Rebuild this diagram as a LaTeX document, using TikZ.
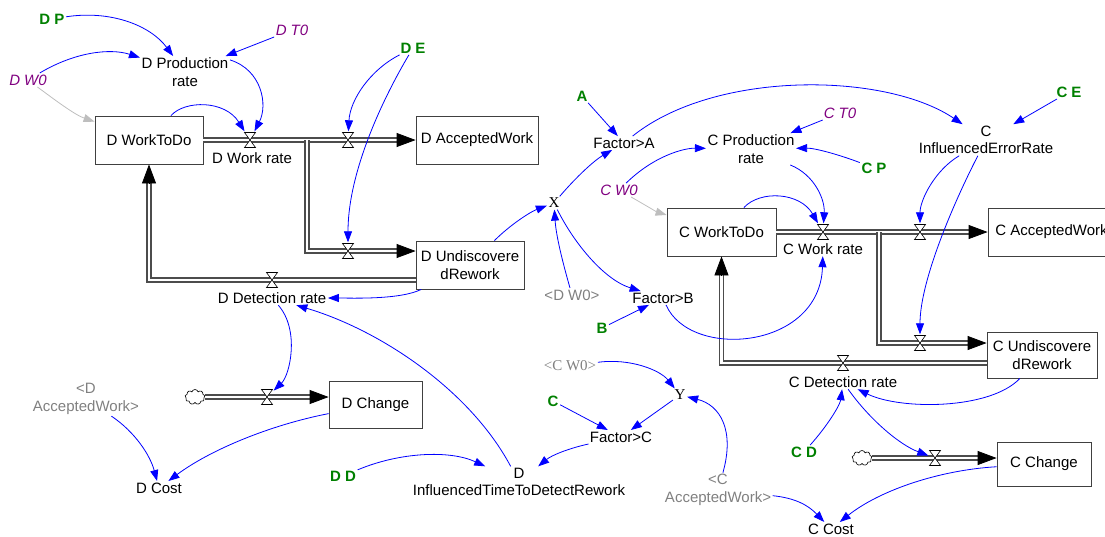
\documentclass[tikz,border=0pt]{standalone}
\usepackage{fontspec}
\setmainfont{Liberation Sans}
\newfontfamily\seriffont{Liberation Serif}
\usetikzlibrary{arrows.meta,shapes.symbols,calc}
\definecolor{cgreen}{RGB}{0,128,0}
\definecolor{cpurple}{RGB}{128,0,128}
\definecolor{cshadow}{RGB}{128,128,128}
\definecolor{cghost}{RGB}{190,190,190}
\definecolor{clink}{RGB}{0,0,255}
\tikzset{
  base/.style={font=\fontsize{15}{17.5}\selectfont, inner sep=1.5pt, align=center},
  var/.style={base},
  const/.style={base, text=cgreen, font=\fontsize{15}{17.5}\selectfont\bfseries},
  init/.style={base, text=cpurple, font=\fontsize{15}{17.5}\selectfont\itshape},
  ghost/.style={base, text=cshadow},
  ghostserif/.style={base, text=cshadow, font=\fontsize{15}{17.5}\selectfont\seriffont},
  serifvar/.style={base, font=\fontsize{15}{17.5}\selectfont\seriffont},
  stock/.style={base, draw=black!75, line width=0.8pt, fill=white, inner sep=0pt},
  valve/.style={minimum width=13pt, minimum height=17pt, inner sep=0pt,
    path picture={\filldraw[fill=white, draw=black, line width=0.6pt]
      ($(path picture bounding box.center)+(-5.5,-7.5)$) -- ($(path picture bounding box.center)+(5.5,-7.5)$) -- (path picture bounding box.center) -- cycle
      ($(path picture bounding box.center)+(-5.5,7.5)$) -- ($(path picture bounding box.center)+(5.5,7.5)$) -- (path picture bounding box.center) -- cycle;}},
  cloudy/.style={cloud, cloud puffs=9, draw, fill=white, line width=0.6pt, minimum width=20pt, minimum height=15pt, inner sep=0pt, aspect=1.3},
  pipe/.style={preaction={draw=black!70, line width=5.2pt}, draw=white, line width=2.8pt},
  flowhead/.style={black, line width=0.8pt, -{Triangle[length=19pt,width=14pt]}},
  link/.style={clink, line width=0.8pt, -{Triangle[length=11pt,width=8pt]}},
  glink/.style={cghost, line width=0.8pt, -{Triangle[length=11pt,width=8pt]}},
}
\begin{document}
\begin{tikzpicture}[x=1pt, y=-1pt]
\useasboundingbox (0,0) rectangle (1105,536);
% stocks
\node[stock, minimum width=108pt, minimum height=48pt] (dwtd) at (149,140) {D WorkToDo};
\node[stock, minimum width=122pt, minimum height=48pt] (dacc) at (477,140) {D AcceptedWork};
\node[stock, minimum width=108pt, minimum height=48pt] (dund) at (470,265) {D Undiscovere\\dRework};
\node[stock, minimum width=93pt, minimum height=47pt] (dchg) at (375.5,404.5) {D Change};
\node[stock, minimum width=109pt, minimum height=48pt] (cwtd) at (721.5,232) {C WorkToDo};
\node[stock, minimum width=127pt, minimum height=48pt] (cacc) at (1051.5,232) {C AcceptedWork};
\node[stock, minimum width=110pt, minimum height=46pt] (cund) at (1042,355) {C Undiscovere\\dRework};
\node[stock, minimum width=94pt, minimum height=44pt] (cchg) at (1044,464) {C Change};
% variables
\node[const] (dp) at (52,19) {D P};
\node[init] (dt0) at (292,30) {D T0};
\node[var] (dprod) at (185,72) {D Production\\rate};
\node[init] (dw0) at (28,80) {D W0};
\node[const] (de) at (413,48) {D E};
\node[var] (dwrl) at (252,158) {D Work rate};
\node[var] (ddet) at (272,298) {D Detection rate};
\node[ghost] (daccsh) at (86,399) {<D\\AcceptedWork>};
\node[var] (dcost) at (159,488) {D Cost};
\node[const] (dd) at (343,476) {D D};
\node[var] (dinf) at (519,482) {D\\InfluencedTimeToDetectRework};
\node[serifvar] (xx) at (554,203) {X};
\node[ghost] (dw0sh) at (572,295) {<D W0>};
\node[const] (ca) at (582,96) {A};
\node[var] (fa) at (624,143) {Factor>A};
\node[var] (fb) at (663,298) {Factor>B};
\node[const] (cb) at (602,328) {B};
\node[var] (cprod) at (751,149) {C Production\\rate};
\node[init] (ct0) at (840,113) {C T0};
\node[const] (cp) at (874,168) {C P};
\node[init] (cw0) at (619,190) {C W0};
\node[var] (cwrl) at (823,249) {C Work rate};
\node[var] (cinf) at (986,140) {C\\InfluencedErrorRate};
\node[const] (ce) at (1069,92) {C E};
\node[var] (cdet) at (843,382) {C Detection rate};
\node[const] (cd) at (804,452) {C D};
\node[ghostserif] (cw0sh) at (570,366) {<C W0>};
\node[serifvar] (yy) at (680,395) {Y};
\node[const] (cc) at (553,401) {C};
\node[var] (fc) at (621,437) {Factor>C};
\node[ghost] (caccsh) at (718,490) {<C\\AcceptedWork>};
\node[var] (ccost) at (831,529) {C Cost};
% clouds and junctions
\node[cloudy] (cl1) at (195,397) {};
\node[cloudy] (cl2) at (862,458) {};
\coordinate (dj) at (307,140);
\coordinate (cj) at (879,232);
% pipes
\draw[pipe] (dwtd.east) -- ($(dacc.west)+(-10,0)$);
\draw[pipe] (dj) |- ($(dund.west)+(-10,-14)$);
\draw[pipe] ($(dund.west)+(0,15)$) -| ($(dwtd.south)+(0,10)$);
\draw[pipe] (cl1.east) -- ($(cl1.east -| dchg.west)+(-10,0)$);
\draw[pipe] (cwtd.east) -- ($(cacc.west)+(-10,0)$);
\draw[pipe] (cj) |- ($(cund.west)+(-10,-12)$);
\draw[pipe] ($(cund.west)+(0,8)$) -| ($(cwtd.south)+(0,10)$);
\draw[pipe] (cl2.east) -- ($(cl2.east -| cchg.west)+(-10,0)$);
% flow heads
\draw[flowhead] ($(dacc.west)+(-19,0)$) -- (dacc.west);
\draw[flowhead] ($(dund.west)+(-19,-14)$) -- ($(dund.west)+(0,-14)$);
\draw[flowhead] ($(dwtd.south)+(0,19)$) -- (dwtd.south);
\draw[flowhead] ($(cl1.east -| dchg.west)+(-19,0)$) -- (cl1.east -| dchg.west);
\draw[flowhead] ($(cacc.west)+(-19,0)$) -- (cacc.west);
\draw[flowhead] ($(cund.west)+(-19,-12)$) -- ($(cund.west)+(0,-12)$);
\draw[flowhead] ($(cwtd.south)+(0,19)$) -- (cwtd.south);
\draw[flowhead] ($(cl2.east -| cchg.west)+(-19,0)$) -- (cl2.east -| cchg.west);
% valves
\node[valve] (vdwr) at (250,140) {};
\node[valve] (vdacc) at (348,140) {};
\node[valve] (vdund) at (348,251) {};
\node[valve] (vddet) at (272,280) {};
\node[valve] (vdchg) at (267,397) {};
\node[valve] (vcwr) at (823,232) {};
\node[valve] (vcacc) at (920,232) {};
\node[valve] (vcund) at (920,343) {};
\node[valve] (vcdet) at (843,363) {};
\node[valve] (vcchg) at (935,458) {};
% links
\draw[link] (dp) .. controls (110,10) and (150,25) .. (dprod);
\draw[link] (dt0) -- (dprod);
\draw[link] (dw0) .. controls (75,52) and (110,48) .. (dprod);
\draw[glink] (dw0) .. controls (55,100) and (75,115) .. (dwtd);
\draw[link] (dprod.15) .. controls (262,70) and (268,105) .. (vdwr);
\draw[link] (dwtd) .. controls (185,100) and (225,100) .. (vdwr);
\draw[link] (de) .. controls (370,70) and (350,100) .. (vdacc);
\draw[link] (de) .. controls (385,95) and (348,170) .. (vdund);
\draw[link] (dund) .. controls (510,225) and (530,212) .. (xx);
\draw[link] (dund) .. controls (400,300) and (350,298) .. (ddet);
\draw[link] (dinf) .. controls (470,390) and (380,330) .. (ddet);
\draw[link] (ddet) .. controls (300,330) and (290,375) .. (vdchg);
\draw[link] (daccsh) .. controls (135,432) and (150,455) .. (dcost);
\draw[link] (dchg) .. controls (270,425) and (210,450) .. (dcost);
\draw[link] (dd) .. controls (400,452) and (450,450) .. (dinf);
\draw[link] (fc) .. controls (570,448) and (552,455) .. (dinf);
\draw[link] (cc) -- (fc);
\draw[link] (yy) -- (fc);
\draw[link] (cw0sh) .. controls (630,358) and (660,370) .. (yy);
\draw[link] (caccsh) .. controls (735,430) and (720,405) .. (yy);
\draw[link] (caccsh) .. controls (795,498) and (808,505) .. (ccost);
\draw[link] (cchg) .. controls (940,470) and (880,490) .. (ccost);
\draw[link] (cdet) .. controls (870,420) and (900,445) .. (vcchg);
\draw[link] (cd) .. controls (828,425) and (840,405) .. (cdet);
\draw[link] (cund) .. controls (990,410) and (900,410) .. (cdet);
\draw[link] (cinf) .. controls (955,200) and (920,280) .. (vcund);
\draw[link] (cinf) .. controls (935,170) and (920,200) .. (vcacc);
\draw[link] (ce) -- (cinf);
\draw[link] (fa) .. controls (715,70) and (885,72) .. (cinf);
\draw[link] (ca) -- (fa);
\draw[link] (xx) .. controls (578,175) and (595,160) .. (fa);
\draw[link] (xx) .. controls (575,245) and (605,280) .. (fb);
\draw[link] (dw0sh) .. controls (562,260) and (556,235) .. (xx);
\draw[link] (cb) -- (fb);
\draw[link] (fb) .. controls (690,360) and (820,350) .. (cwrl);
\draw[link] (cw0) .. controls (655,155) and (685,148) .. (cprod);
\draw[glink] (cw0) .. controls (645,205) and (657,212) .. (cwtd);
\draw[link] (ct0) -- (cprod);
\draw[link] (cp) .. controls (840,155) and (815,148) .. (cprod);
\draw[link] (cprod) .. controls (815,175) and (825,200) .. (vcwr);
\draw[link] (cwtd) .. controls (760,190) and (800,192) .. (vcwr);
\end{tikzpicture}
\end{document}
